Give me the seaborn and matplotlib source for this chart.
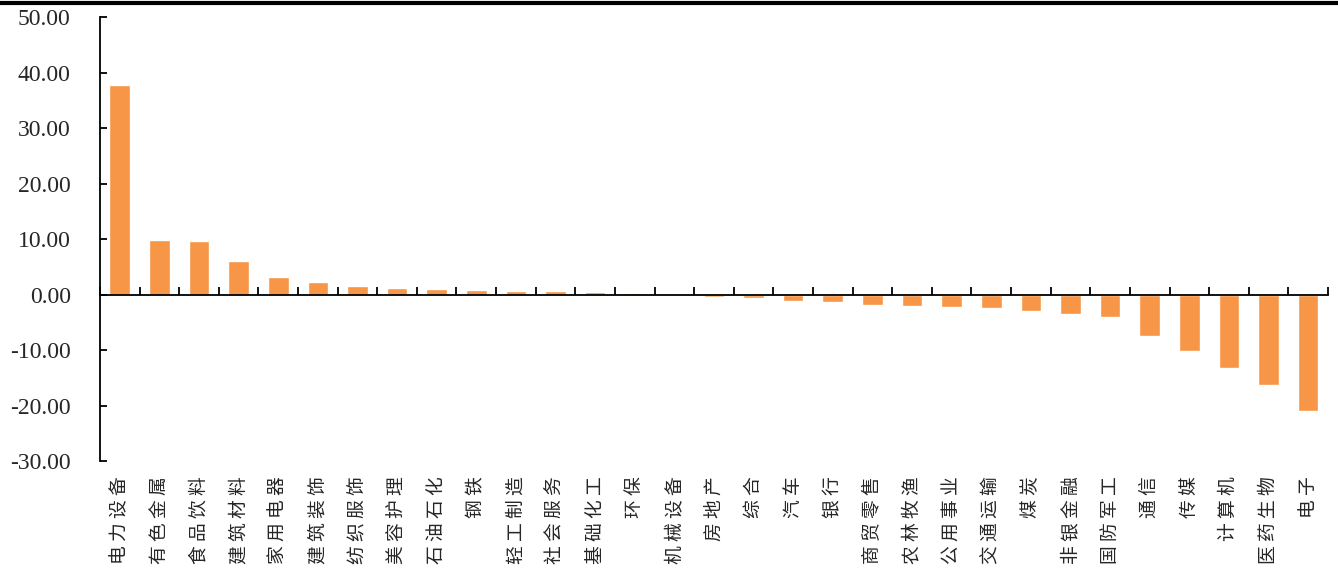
import numpy as np
import pandas as pd
import matplotlib
matplotlib.use("Agg")
import matplotlib.pyplot as plt
import seaborn as sns
from matplotlib.lines import Line2D

industries = ["电力设备", "有色金属", "食品饮料", "建筑材料", "家用电器", "建筑装饰",
              "纺织服饰", "美容护理", "石油石化", "钢铁", "轻工制造", "社会服务",
              "基础化工", "环保", "机械设备", "房地产", "综合", "汽车", "银行",
              "商贸零售", "农林牧渔", "公用事业", "交通运输", "煤炭", "非银金融",
              "国防军工", "通信", "传媒", "计算机", "医药生物", "电子"]
changes = [37.7, 9.8, 9.6, 6.0, 3.1, 2.3, 1.6, 1.1, 1.0, 0.9, 0.7, 0.6,
           0.4, 0.3, 0.05, -0.4, -0.7, -1.2, -1.4, -1.9, -2.1, -2.2, -2.5,
           -3.0, -3.5, -4.1, -7.5, -10.1, -13.2, -16.3, -21.0]
yticks = [-30, -20, -10, 0, 10, 20, 30, 40, 50]

df = pd.DataFrame({"industry": industries, "change": changes})

sns.set_theme(style="white")
plt.rcParams['font.family'] = ['Liberation Serif', 'Noto Sans CJK SC', 'DejaVu Sans']

fig = plt.figure(figsize=(13.38, 5.72), dpi=100)
ax = fig.add_axes([0.0747, 0.194, 0.9925 - 0.0747, 0.776])

sns.barplot(data=df, x="industry", y="change", color="#F79646", saturation=1,
            width=0.52, ax=ax)

# spines first: moving the bottom spine rebuilds the ticks
for s in ["top", "right"]:
    ax.spines[s].set_visible(False)
ax.spines["bottom"].set_position(("data", 0))
ax.spines["bottom"].set_color("black")
ax.spines["bottom"].set_linewidth(1.3)
ax.spines["left"].set_color("black")
ax.spines["left"].set_linewidth(1.3)

ax.set_xlim(-0.5, len(industries) - 0.5)
ax.set_ylim(-30, 50)
ax.set_yticks(yticks)
ax.set_yticklabels([f"{v:.2f}" for v in yticks], fontsize=17)
ax.set_xlabel("")
ax.set_ylabel("")

# boundary ticks on the zero line
ax.set_xticks(np.arange(-0.5, len(industries)), minor=True)
ax.tick_params(axis="x", which="minor", direction="in", length=6, width=1.3,
               color="black", bottom=True)
ax.tick_params(axis="y", direction="in", length=5, width=1.3, color="black",
               left=True, pad=21)

# category labels, vertical under the plot (spaced out like the original)
ax.set_xticks(range(len(industries)))
ax.set_xticklabels([" ".join(name) for name in industries])
ax.tick_params(axis="x", which="major", length=0, pad=131, labelrotation=90)
plt.setp(ax.get_xticklabels(), va="top", ha="center", fontsize=13.5,
         family=['Noto Sans CJK SC', 'DejaVu Sans'])

# rule across the top of the figure
fig.add_artist(Line2D([0, 1], [0.995, 0.995], color="black", lw=3,
                      transform=fig.transFigure))

fig.savefig("out.png", dpi=100)
